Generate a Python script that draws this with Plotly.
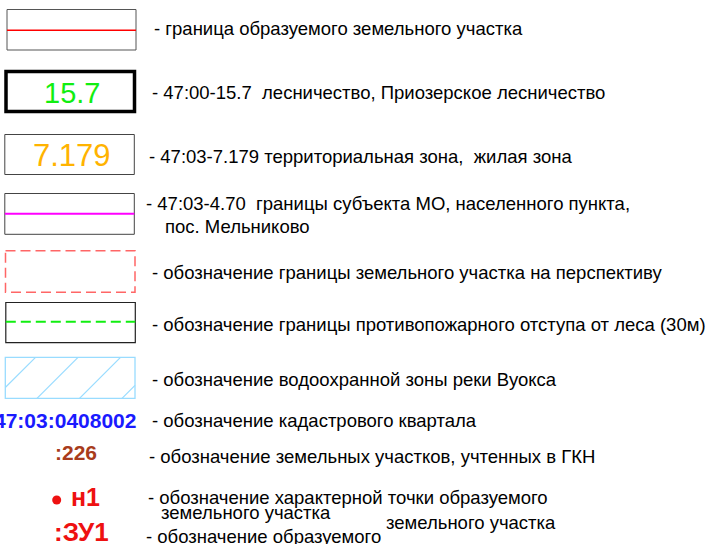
import plotly.graph_objects as go

# ---- legend content ----
row_labels = [
    "- граница образуемого земельного участка",
    "- 47:00-15.7  лесничество, Приозерское лесничество",
    "- 47:03-7.179 территориальная зона,  жилая зона",
    "- 47:03-4.70  границы субъекта МО, населенного пункта,",
    "пос. Мельниково",
    "- обозначение границы земельного участка на перспективу",
    "- обозначение границы противопожарного отступа от леса (30м)",
    "- обозначение водоохранной зоны реки Вуокса",
    "- обозначение кадастрового квартала",
    "- обозначение земельных участков, учтенных в ГКН",
    "- обозначение характерной точки образуемого",
    "земельного участка",
    "земельного участка",
    "- обозначение образуемого",
]
row_label_x = [152, 150, 147, 144, 163, 150, 150, 150, 150, 147, 146, 159, 384, 144]
row_label_y = [28, 92, 156, 203, 226, 272, 324, 379, 420, 456, 497, 512, 522, 536]

forest_code = "15.7"
zone_code = "7.179"
quarter_code = "47:03:0408002"
parcel_code = ":226"
point_code = "н1"
new_parcel_code = ":ЗУ1"

FONT = "Liberation Sans, Arial, sans-serif"

fig = go.Figure()
shapes = []
ann = []

def rect(x0, y0, x1, y1, color, width=1, dash="solid"):
    shapes.append(dict(type="rect", x0=x0, y0=y0, x1=x1, y1=y1,
                       line=dict(color=color, width=width, dash=dash),
                       fillcolor="rgba(0,0,0,0)", layer="above"))

def line(x0, y0, x1, y1, color, width=1, dash="solid"):
    shapes.append(dict(type="line", x0=x0, y0=y0, x1=x1, y1=y1,
                       line=dict(color=color, width=width, dash=dash), layer="above"))

# box 1: red boundary line
rect(7, 9.5, 136, 50, "#555555", 1)
line(7, 30.3, 136, 30.3, "#ff0000", 1.5)
# box 2: thick black box with green number
rect(6, 71.5, 134.5, 111.5, "#000000", 3.5)
ann.append(dict(x=72, y=93, text=forest_code, font=dict(family=FONT, size=29, color="#11ee11")))
# box 3: orange number
rect(4.8, 134.5, 134.3, 174.5, "#444444", 1)
ann.append(dict(x=72, y=155.5, text=zone_code, font=dict(family=FONT, size=31, color="#ffb300")))
# box 4: magenta line
rect(4.8, 193.5, 134.3, 234.3, "#444444", 1)
line(4.8, 213.7, 134.3, 213.7, "#ff00ff", 2)
# box 5: dashed red box
rect(5.5, 250.8, 135, 292.3, "#ff6666", 1.5, "10px,5px")
# box 6: black box with green dashed line
rect(5.8, 302.5, 135.3, 342.7, "#222222", 1.2)
line(5.8, 321.7, 135.3, 321.7, "#11ee11", 2, "10px,5px")
# box 7: light blue hatched box
bx0, by0, bx1, by1 = 5.3, 357.3, 135, 398.3
rect(bx0, by0, bx1, by1, "#99dcff", 1.3)
h = by1 - by0
for k in range(4):
    xb = -5.5 + 42.5 * k
    xt = xb + h
    x0, y0 = xb, by1
    x1, y1 = xt, by0
    if x0 < bx0:
        y0 = by1 - (bx0 - xb)
        x0 = bx0
    if x1 > bx1:
        y1 = by1 - (bx1 - xb)
        x1 = bx1
    line(x0, y0, x1, y1, "#99dcff", 1.2)

# symbols
ann.append(dict(x=138, y=420, text="<b>%s</b>" % quarter_code, xanchor="right",
                font=dict(family=FONT, size=21, color="#1a1aff")))
ann.append(dict(x=76, y=452.5, text="<b>%s</b>" % parcel_code,
                font=dict(family=FONT, size=21, color="#a83c1c")))
ann.append(dict(x=85, y=496.5, text="<b>%s</b>" % point_code,
                font=dict(family=FONT, size=25, color="#ee1111")))
ann.append(dict(x=81, y=532, text="<b>%s</b>" % new_parcel_code,
                font=dict(family=FONT, size=26, color="#ee1111")))

fig.add_trace(go.Scatter(x=[56.7], y=[500], mode="markers",
                         marker=dict(size=9, color="#ee1111", line=dict(width=0)),
                         hoverinfo="skip", showlegend=False))

for t, x, y in zip(row_labels, row_label_x, row_label_y):
    ann.append(dict(x=x, y=y, text=t, xanchor="left",
                    font=dict(family=FONT, size=18.5, color="#000000")))

for a in ann:
    a.setdefault("xanchor", "center")
    a.update(yanchor="middle", showarrow=False, xref="x", yref="y")

fig.update_layout(
    width=710, height=544,
    margin=dict(l=0, r=0, t=0, b=0),
    paper_bgcolor="white", plot_bgcolor="white",
    xaxis=dict(range=[0, 710], visible=False, fixedrange=True),
    yaxis=dict(range=[544, 0], visible=False, fixedrange=True),
    shapes=shapes, annotations=ann, showlegend=False,
)
fig.write_html("out.html", config={"displayModeBar": False},
               post_script="document.body.style.margin='0';document.body.style.overflow='hidden';")
